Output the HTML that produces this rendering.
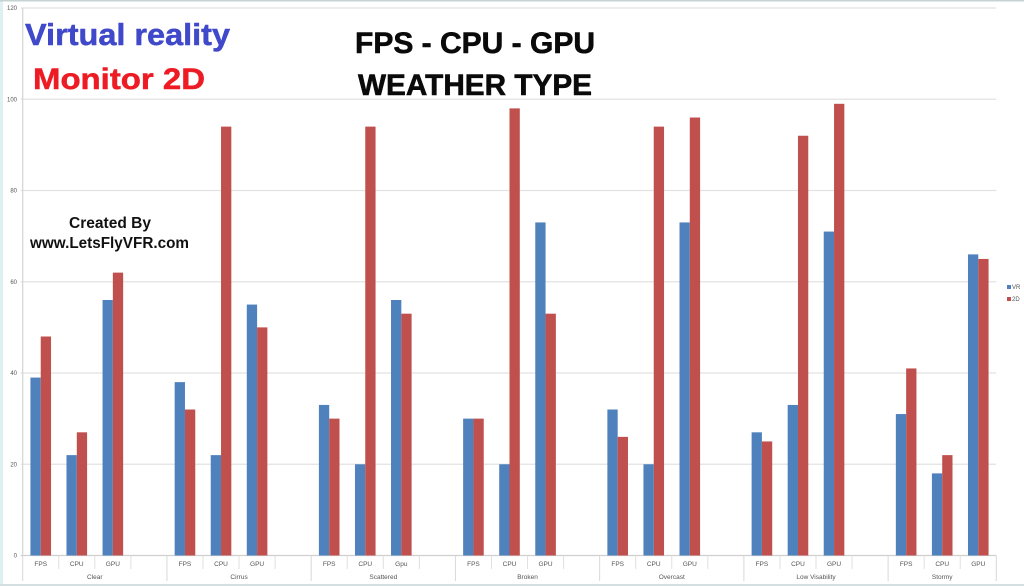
<!DOCTYPE html>
<html>
<head>
<meta charset="utf-8">
<style>
html,body{margin:0;padding:0;width:1024px;height:586px;overflow:hidden;background:#fff}
svg{display:block;filter:blur(0.35px)}
text{font-family:"Liberation Sans",sans-serif}
.heavy{paint-order:stroke;stroke-linejoin:round}
</style>
</head>
<body>
<svg id="chart" xmlns="http://www.w3.org/2000/svg" width="1024" height="586" viewBox="0 0 1024 586">
  <rect x="0" y="0" width="1024" height="586" fill="#ffffff"/>
  <rect x="0" y="0" width="3" height="586" fill="#dff0f2"/>
  <rect x="0" y="0" width="1024" height="1.5" fill="#c6d3d3"/>
  <rect x="0" y="584" width="1024" height="2" fill="#d3dfe0"/>
  <g id="grid"></g>
  <g id="bars"></g>
  <g id="axis"></g>
  <g>
    <rect x="1007" y="285" width="4" height="4" fill="#4f81bd"/>
    <text x="1012" y="289" font-size="6" fill="#555">VR</text>
    <rect x="1007" y="297" width="4" height="4" fill="#c0504d"/>
    <text x="1012" y="301" font-size="6" fill="#555">2D</text>
  </g>
  <text class="heavy" x="25" y="45" font-size="31" font-weight="bold" fill="#3f49c9" stroke="#3f49c9" stroke-width="0.5" textLength="205" lengthAdjust="spacingAndGlyphs">Virtual reality</text>
  <text class="heavy" x="33" y="89" font-size="30" font-weight="bold" fill="#ed1c24" stroke="#ed1c24" stroke-width="0.5" textLength="172" lengthAdjust="spacingAndGlyphs">Monitor 2D</text>
  <text class="heavy" x="355" y="53" font-size="30" font-weight="bold" fill="#0a0a0a" stroke="#0a0a0a" stroke-width="0.6" textLength="240" lengthAdjust="spacingAndGlyphs">FPS - CPU - GPU</text>
  <text class="heavy" x="358" y="95" font-size="30" font-weight="bold" fill="#0a0a0a" stroke="#0a0a0a" stroke-width="0.6" textLength="234" lengthAdjust="spacingAndGlyphs">WEATHER TYPE</text>
  <text x="69" y="228" font-size="15.5" font-weight="bold" fill="#111" textLength="82" lengthAdjust="spacingAndGlyphs">Created By</text>
  <text x="30" y="248" font-size="15.5" font-weight="bold" fill="#111" textLength="159" lengthAdjust="spacingAndGlyphs">www.LetsFlyVFR.com</text>
</svg>
<script>
const groupNames = ["Clear", "Cirrus", "Scattered", "Broken", "Overcast", "Low Visability", "Stormy"];
const metricNames = [
  ["FPS", "CPU", "GPU", ""],
  ["FPS", "CPU", "GPU", ""],
  ["FPS", "CPU", "Gpu", ""],
  ["FPS", "CPU", "GPU", ""],
  ["FPS", "CPU", "GPU", ""],
  ["FPS", "CPU", "GPU", ""],
  ["FPS", "CPU", "GPU"]
];
const vrValues = [
  [39, 22, 56, null],
  [38, 22, 55, null],
  [33, 20, 56, null],
  [30, 20, 73, null],
  [32, 20, 73, null],
  [27, 33, 71, null],
  [31, 18, 66]
];
const monitorValues = [
  [48, 27, 62, null],
  [32, 94, 50, null],
  [30, 94, 53, null],
  [30, 98, 53, null],
  [26, 94, 96, null],
  [25, 92, 99, null],
  [41, 22, 65]
];
const yTicks = [0, 20, 40, 60, 80, 100, 120];

const NS = "http://www.w3.org/2000/svg";
const plotLeft = 22.7, plotRight = 996.3, plotBottom = 555.5, plotTop = 8;
const slotCount = metricNames.reduce(function (n, g) { return n + g.length; }, 0);
const slotWidth = (plotRight - plotLeft) / slotCount;
const barWidth = 10.3;
const yMax = yTicks[yTicks.length - 1];
function yScale(v) { return plotBottom - (v / yMax) * (plotBottom - plotTop); }
function xScale(slot) { return plotLeft + slot * slotWidth; }
function make(tag, attrs, parent, txt) {
  const el = document.createElementNS(NS, tag);
  for (const k in attrs) el.setAttribute(k, attrs[k]);
  if (txt !== undefined) el.textContent = txt;
  parent.appendChild(el);
  return el;
}
const gridG = document.getElementById("grid");
const barsG = document.getElementById("bars");
const axisG = document.getElementById("axis");

yTicks.forEach(function (t) {
  const line = make("line", { x1: plotLeft - 2, x2: plotRight, y1: yScale(t), y2: yScale(t), stroke: t === 0 ? "#cfcfcf" : "#e2e2e2", "stroke-width": 1.2 }, gridG);
  
  
  const label = make("text", { x: 17, y: yScale(t) + 2.2, "font-size": 6, fill: "#555", "text-anchor": "end" }, axisG, String(t));
  
  
});

const yAxis = make("line", { x1: plotLeft, x2: plotLeft, y1: plotTop, y2: plotBottom, stroke: "#d4d4d4", "stroke-width": 1.2 }, axisG);



let slot = 0;
metricNames.forEach(function (metrics, g) {
  const groupStart = slot;
  const groupTick = make("line", { x1: xScale(slot), x2: xScale(slot), y1: plotBottom, y2: 581, stroke: "#d8d8d8", "stroke-width": 1 }, axisG);
  
  
  metrics.forEach(function (m, i) {
    const cx = xScale(slot + 0.5);
    const vr = vrValues[g][i];
    const two = monitorValues[g][i];
    if (vr !== null && vr !== undefined) {
      const b1 = make("rect", { x: cx - barWidth, y: yScale(vr), width: barWidth, height: plotBottom - yScale(vr), fill: "#4f81bd" }, barsG);
      
      
    }
    if (two !== null && two !== undefined) {
      const b2 = make("rect", { x: cx, y: yScale(two), width: barWidth, height: plotBottom - yScale(two), fill: "#c0504d" }, barsG);
      
      
    }
    if (m) {
      const lab = make("text", { x: cx, y: 566, "font-size": 6.5, fill: "#555", "text-anchor": "middle" }, axisG, m);
      
      
    }
    if (i > 0) {
      const tick = make("line", { x1: xScale(slot), x2: xScale(slot), y1: plotBottom, y2: 569, stroke: "#e0e0e0", "stroke-width": 1 }, axisG);
      
      
    }
    slot++;
  });
  const gl = make("text", { x: xScale((groupStart + slot) / 2), y: 579, "font-size": 6.5, fill: "#555", "text-anchor": "middle" }, axisG, groupNames[g]);
  
  
});
const endTick = make("line", { x1: xScale(slot), x2: xScale(slot), y1: plotBottom, y2: 581, stroke: "#d8d8d8", "stroke-width": 1 }, axisG);


</script>
</body>
</html>
